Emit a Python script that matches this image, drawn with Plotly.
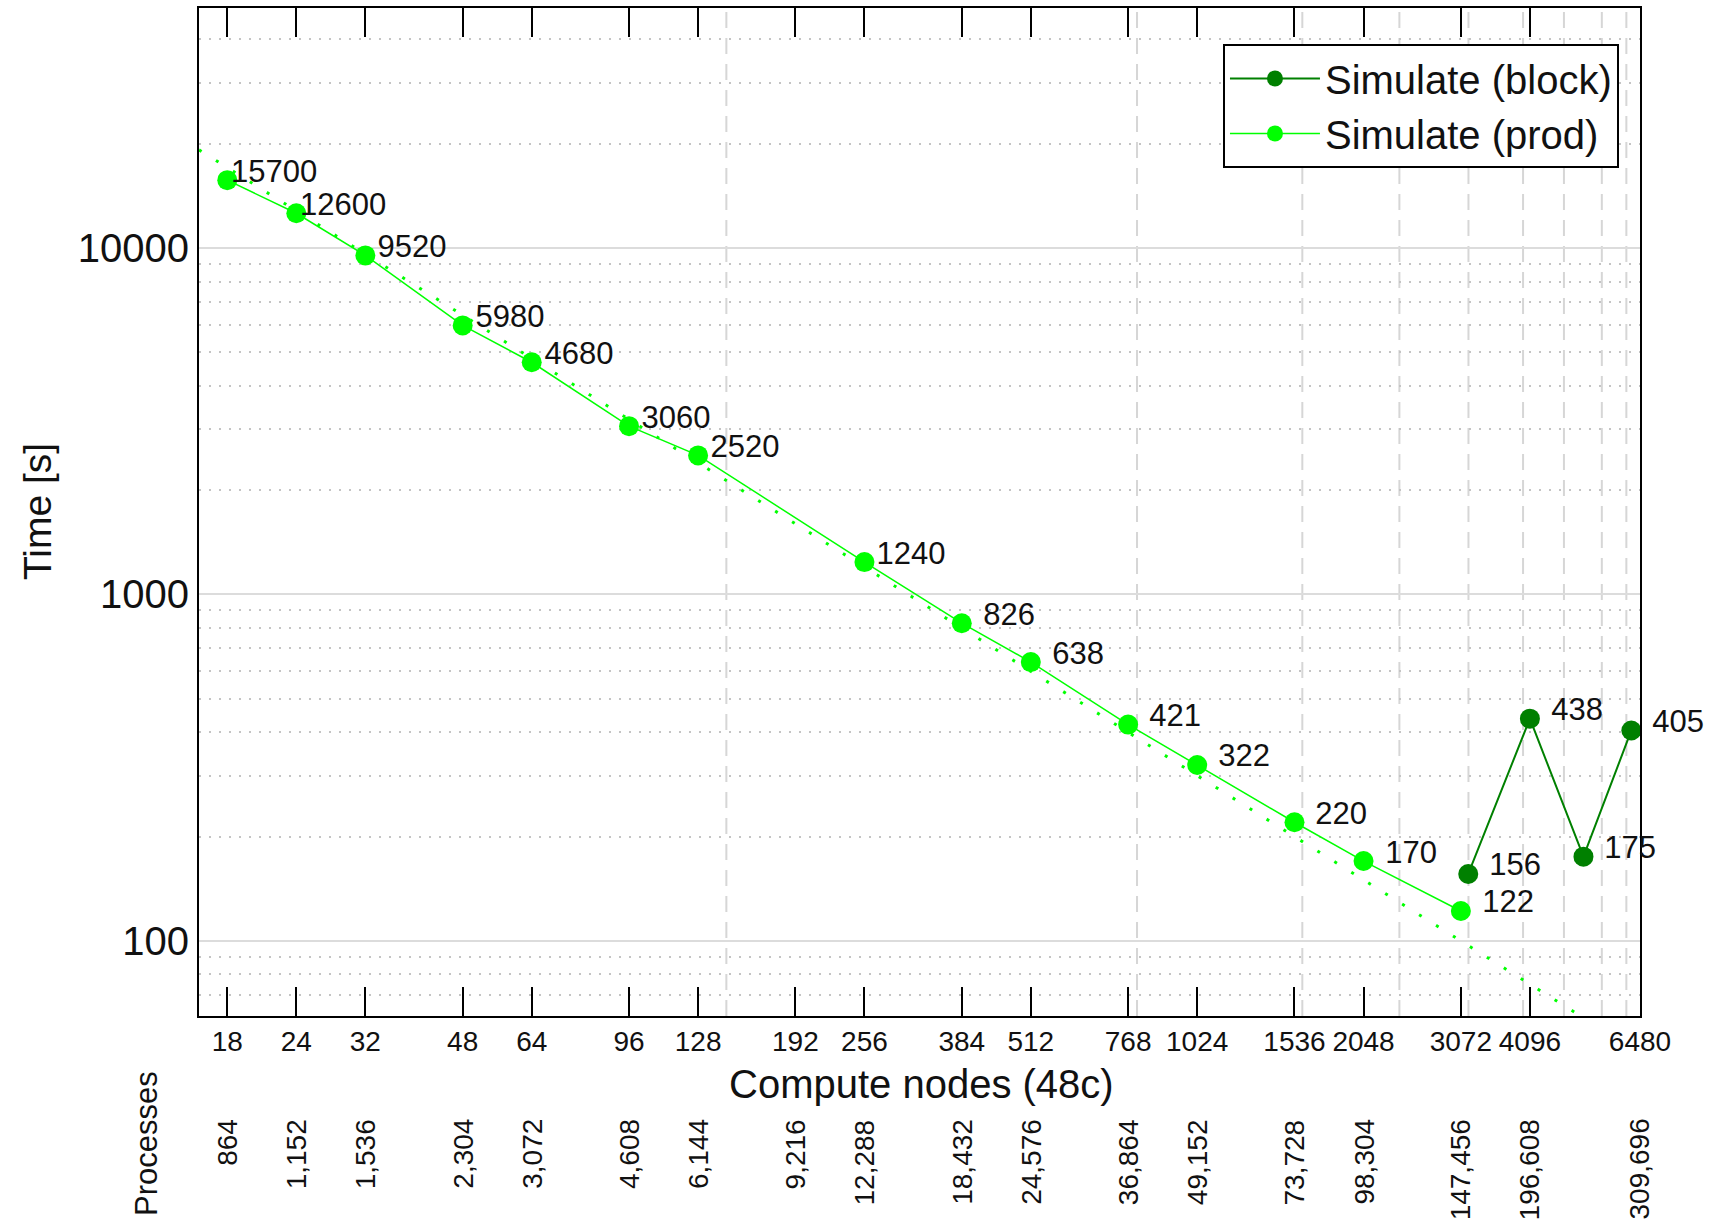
import numpy as np
import plotly.graph_objects as go

# ---------------- data ----------------
tick_nodes = [18, 24, 32, 48, 64, 96, 128, 192, 256, 384, 512, 768, 1024, 1536, 2048, 3072, 4096, 6480]
tick_labels = ["18", "24", "32", "48", "64", "96", "128", "192", "256", "384", "512", "768",
               "1024", "1536", "2048", "3072", "4096", "6480"]
process_labels = ["864", "1,152", "1,536", "2,304", "3,072", "4,608", "6,144", "9,216", "12,288",
                  "18,432", "24,576", "36,864", "49,152", "73,728", "98,304", "147,456",
                  "196,608", "309,696"]

prod_nodes = [18, 24, 32, 48, 64, 96, 128, 256, 384, 512, 768, 1024, 1536, 2048, 3072]
prod_time = [15700, 12600, 9520, 5980, 4680, 3060, 2520, 1240, 826, 638, 421, 322, 220, 170, 122]

block_nodes = [3168, 4096, 5120, 6250]
block_time = [156, 438, 175, 405]

ideal_nodes = [16, 5120]
ideal_time = [19200, 60]

grid_nodes = [144, 797, 1587, 2378, 3171, 3981, 4720, 5527, 6122]

y_tick_vals = [100, 1000, 10000]
y_tick_labels = ["100", "1000", "10000"]
y_minor_vals = [m * 10 ** e for e in range(1, 5) for m in range(2, 10)]

FONT = "Liberation Sans, Arial, Helvetica, sans-serif"
PROD = "#00ff00"
BLOCK = "#008000"

fig = go.Figure()
fig.add_trace(go.Scatter(x=ideal_nodes, y=ideal_time, mode="lines",
                         line=dict(color=PROD, width=3, dash="3px,17px"),
                         showlegend=False, hoverinfo="skip"))
fig.add_trace(go.Scatter(x=block_nodes, y=block_time, mode="lines+markers",
                         name="Simulate (block)",
                         line=dict(color=BLOCK, width=2),
                         marker=dict(size=20, color=BLOCK)))
fig.add_trace(go.Scatter(x=prod_nodes, y=prod_time, mode="lines+markers",
                         name="Simulate (prod)",
                         line=dict(color=PROD, width=1.5),
                         marker=dict(size=20, color=PROD)))

annotations = []
for xs, ys in [(prod_nodes, prod_time), (block_nodes, block_time)]:
    for n, t in zip(xs, ys):
        txt = f"{t:5d}".replace(" ", "\u00a0")
        annotations.append(dict(x=float(np.log10(n)), y=float(np.log10(t)), xref="x", yref="y",
                                text=txt, showarrow=False, xanchor="left", yanchor="middle",
                                xshift=2, yshift=9,
                                font=dict(size=31, color="#111111", family=FONT)))

for n, lab in zip(tick_nodes, process_labels):
    annotations.append(dict(x=float(np.log10(n)), y=-0.1002, xref="x", yref="paper",
                            text=lab, showarrow=False, textangle=-90,
                            xanchor="center", yanchor="top",
                            font=dict(size=28, color="#111111", family=FONT)))

annotations.append(dict(x=-0.0368, y=-0.126, xref="paper", yref="paper", text="Processes",
                        showarrow=False, textangle=-90, xanchor="center", yanchor="middle",
                        font=dict(size=31, color="#111111", family=FONT)))
annotations.append(dict(x=0.5012, y=-0.0675, xref="paper", yref="paper",
                        text="Compute nodes (48c)", showarrow=False,
                        xanchor="center", yanchor="middle",
                        font=dict(size=40, color="#111111", family=FONT)))
annotations.append(dict(x=-0.112, y=0.5005, xref="paper", yref="paper", text="Time [s]",
                        showarrow=False, textangle=-90, xanchor="center", yanchor="middle",
                        font=dict(size=39, color="#111111", family=FONT)))

shapes = []
for g in grid_nodes:
    shapes.append(dict(type="line", xref="x", yref="paper", x0=g, x1=g, y0=0, y1=1,
                       layer="below", line=dict(color="#d6d6d6", width=2, dash="16px,10px")))

fig.update_layout(
    width=1721, height=1223,
    margin=dict(l=199, r=81, t=8, b=207, autoexpand=False),
    paper_bgcolor="white", plot_bgcolor="white",
    font=dict(family=FONT, color="#111111"),
    showlegend=True,
    legend=dict(x=0.9854, xanchor="right", y=0.9643, yanchor="top",
                bgcolor="white", bordercolor="black", borderwidth=2,
                font=dict(size=40, color="#111111", family=FONT),
                itemwidth=90, tracegroupgap=0),
    xaxis=dict(type="log", range=[float(np.log10(16)), float(np.log10(6480))],
               tickmode="array", tickvals=tick_nodes, ticktext=tick_labels,
               ticks="inside", ticklen=29, tickwidth=2, tickcolor="black",
               showline=True, linewidth=2, linecolor="black", mirror="ticks",
               showgrid=False, zeroline=False,
               tickfont=dict(size=28, color="#111111", family=FONT),
               ticklabelstandoff=-1),
    yaxis=dict(type="log", range=[float(np.log10(60.7)), float(np.log10(49300))],
               tickmode="array", tickvals=y_tick_vals, ticktext=y_tick_labels,
               ticks="", showline=True, linewidth=2, linecolor="black", mirror=True,
               showgrid=True, gridcolor="#dcdcdc", gridwidth=2, zeroline=False,
               minor=dict(tickmode="array", tickvals=y_minor_vals, showgrid=True,
                          gridcolor="#c4c4c4", gridwidth=1.5, griddash="2px,8px", ticks=""),
               tickfont=dict(size=40, color="#111111", family=FONT),
               ticklabelstandoff=0),
    annotations=annotations,
    shapes=shapes,
)

fig.write_html("out.html", config={"displayModeBar": False},
               post_script="document.body.style.margin='0';")
